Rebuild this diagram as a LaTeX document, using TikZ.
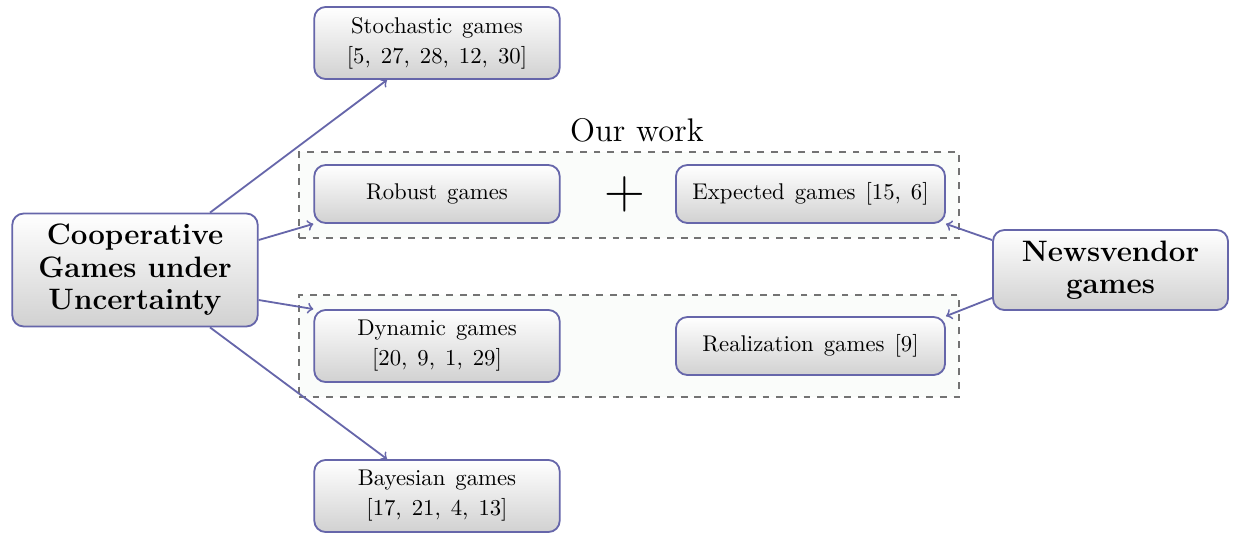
\documentclass[tikz,border=0pt]{standalone}
\usetikzlibrary{calc}
\definecolor{edgeblue}{RGB}{102,102,170}
\definecolor{groupfill}{RGB}{250,252,250}
\newcommand\myspacing{\spaceskip=4.4pt\relax}
\tikzset{
  gamebox/.style={draw=edgeblue, thick, rounded corners=5pt, top color=white, bottom color=black!18,
    align=center, font=\fontsize{10}{13.2}\selectfont\myspacing, minimum width=108pt, inner sep=3pt},
  mainbox/.style={gamebox, font=\fontsize{13}{14.3}\selectfont\bfseries},
  groupbox/.style={draw=black!55, dashed, semithick, fill=groupfill, minimum width=290.4pt, inner sep=0pt},
  link/.style={draw=edgeblue, thick, ->}
}
\begin{document}
\begin{tikzpicture}[x=0.44pt, y=-0.44pt]
\useasboundingbox (0,0) rectangle (1239,533);
% groups
\node[groupbox, minimum height=37.8pt] (top) at (629,195) {};
\node[groupbox, minimum height=44.9pt] (bot) at (629,346) {};
\node[font=\fontsize{14.4}{18}\selectfont] (our) at (637,130) {Our work};
% nodes
\node[mainbox, minimum height=49.7pt] (coop) at (135,270) {Cooperative\\Games under\\Uncertainty};
\node[mainbox, minimum width=103.4pt, minimum height=35.2pt] (news) at (1110.5,270) {Newsvendor\\games};
\node[gamebox, minimum height=31.7pt] (stoch) at (437,43) {Stochastic games\\{}[5, 27, 28, 12, 30]};
\node[gamebox, minimum height=25.5pt] (robust) at (437,194) {Robust games};
\node[gamebox, minimum width=118.4pt, minimum height=25.5pt] (exp) at (810.5,194) {Expected games [15, 6]};
\node[font=\Huge] (plus) at (625,194) {$+$};
\node[gamebox, minimum height=31.7pt] (dyn) at (437,346) {Dynamic games\\{}[20, 9, 1, 29]};
\node[gamebox, minimum width=118.4pt, minimum height=25.5pt] (real) at (810.5,346) {Realization games [9]};
\node[gamebox, minimum height=31.7pt] (bayes) at (437,496) {Bayesian games\\{}[17, 21, 4, 13]};
% links
\draw[link] ([xshift=33pt]coop.north) -- ([xshift=-22pt]stoch.south);
\draw[link] ([yshift=13.2pt]coop.east) -- (robust.south west);
\draw[link] ([yshift=-13.2pt]coop.east) -- (dyn.north west);
\draw[link] ([xshift=33pt]coop.south) -- ([xshift=-22pt]bayes.north);
\draw[link] ([yshift=13.2pt]news.west) -- (exp.south east);
\draw[link] ([yshift=-12.3pt]news.west) -- (real.north east);
\end{tikzpicture}
\end{document}
